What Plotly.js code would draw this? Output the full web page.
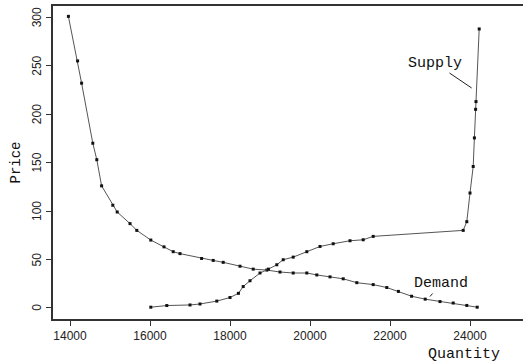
<!DOCTYPE html>
<html>
<head>
<meta charset="utf-8">
<script src="https://cdn.plot.ly/plotly-3.0.1.min.js"></script>
<style>html,body{margin:0;padding:0;background:#fff;}#chart{width:523px;height:363px;}</style>
</head>
<body>
<div id="chart"></div>
<script>
var demandQ = [13960, 14190, 14290, 14570, 14670, 14790, 15070, 15180, 15500, 15670, 16020, 16350, 16580, 16750, 17290, 17580, 17830, 18250, 18580, 18920, 19250, 19580, 19920, 20170, 20500, 20830, 21170, 21580, 21920, 22210, 22540, 22880, 23250, 23580, 23920, 24180];
var demandP = [301, 255, 232, 170, 153, 126, 106, 99, 87, 80, 70, 63, 58, 56, 51, 49, 47, 43, 40, 39, 37, 36, 36, 34, 32, 30, 26, 24, 21, 17, 12, 9, 6.5, 5, 2.5, 0.7];
var supplyQ = [16020, 16420, 17000, 17250, 17670, 18000, 18210, 18330, 18500, 18750, 18960, 19170, 19330, 19580, 19920, 20250, 20580, 21000, 21330, 21580, 23830, 23920, 24000, 24080, 24110, 24140, 24150, 24230];
var supplyP = [0.7, 2.4, 3, 4, 7, 10.7, 15, 22, 28, 36, 40, 44.5, 49.7, 52.4, 58, 63.4, 66.2, 69.3, 70.3, 73.8, 80, 89, 118.6, 146, 175.5, 205, 213, 288];
var xTicks = [14000, 16000, 18000, 20000, 22000, 24000];
var yTicks = [0, 50, 100, 150, 200, 250, 300];

var mono = "Liberation Mono, DejaVu Sans Mono, monospace";
var sans = "Liberation Sans, Arial, sans-serif";
var lineStyle = {color: '#555', width: 1};
var markerStyle = {color: '#111', size: 3, symbol: 'square'};

var traces = [
  {x: demandQ, y: demandP, type: 'scatter', mode: 'lines+markers', name: 'Demand', line: lineStyle, marker: markerStyle},
  {x: supplyQ, y: supplyP, type: 'scatter', mode: 'lines+markers', name: 'Supply', line: lineStyle, marker: markerStyle}
];

// rotated y tick labels (reading bottom to top)
var yTickAnns = yTicks.map(function (v) {
  return {x: 0, y: v, xref: 'paper', yref: 'y', text: String(v), showarrow: false,
          textangle: -90, xanchor: 'center', yanchor: 'middle', xshift: -16,
          font: {family: sans, size: 12, color: '#222'}};
});

var layout = {
  width: 523, height: 363,
  margin: {l: 53, r: 0, t: 6, b: 44},
  paper_bgcolor: '#fff', plot_bgcolor: '#fff',
  showlegend: false,
  xaxis: {
    range: [13575, 25325], tickvals: xTicks, ticktext: xTicks.map(String),
    showgrid: false, zeroline: false, showline: true, mirror: true,
    linecolor: '#333', linewidth: 2, ticks: 'outside', ticklen: 5, tickcolor: '#333',
    tickfont: {family: sans, size: 12, color: '#222'}
  },
  yaxis: {
    range: [-11.5, 311.7], tickvals: yTicks, showticklabels: false,
    showgrid: false, zeroline: false, showline: true,
    linecolor: '#333', linewidth: 2, ticks: 'outside', ticklen: 5, tickcolor: '#333'
  },
  annotations: yTickAnns.concat([
    {x: 0, y: 0.5, xref: 'paper', yref: 'paper', text: 'Price', showarrow: false, textangle: -90, xanchor: 'center', yanchor: 'middle', xshift: -38, font: {family: mono, size: 14, color: '#111'}},
    {x: 24042, y: 227, xref: 'x', yref: 'y', text: 'Supply', showarrow: true, arrowhead: 0, arrowwidth: 1, arrowcolor: '#222', ax: -37, ay: -25, font: {family: mono, size: 15, color: '#111'}},
    {x: 23000, y: 11.7, xref: 'x', yref: 'y', text: 'Demand', showarrow: true, arrowhead: 0, arrowwidth: 1, arrowcolor: '#222', ax: 11, ay: -13, font: {family: mono, size: 15, color: '#111'}},
    {x: 1, y: 0, xref: 'paper', yref: 'paper', text: 'Quantity', showarrow: false, xanchor: 'right', yanchor: 'top', xshift: -21, yshift: -25, font: {family: mono, size: 15, color: '#111'}}
  ])
};

Plotly.newPlot('chart', traces, layout, {displayModeBar: false, staticPlot: true});
</script>
</body>
</html>
